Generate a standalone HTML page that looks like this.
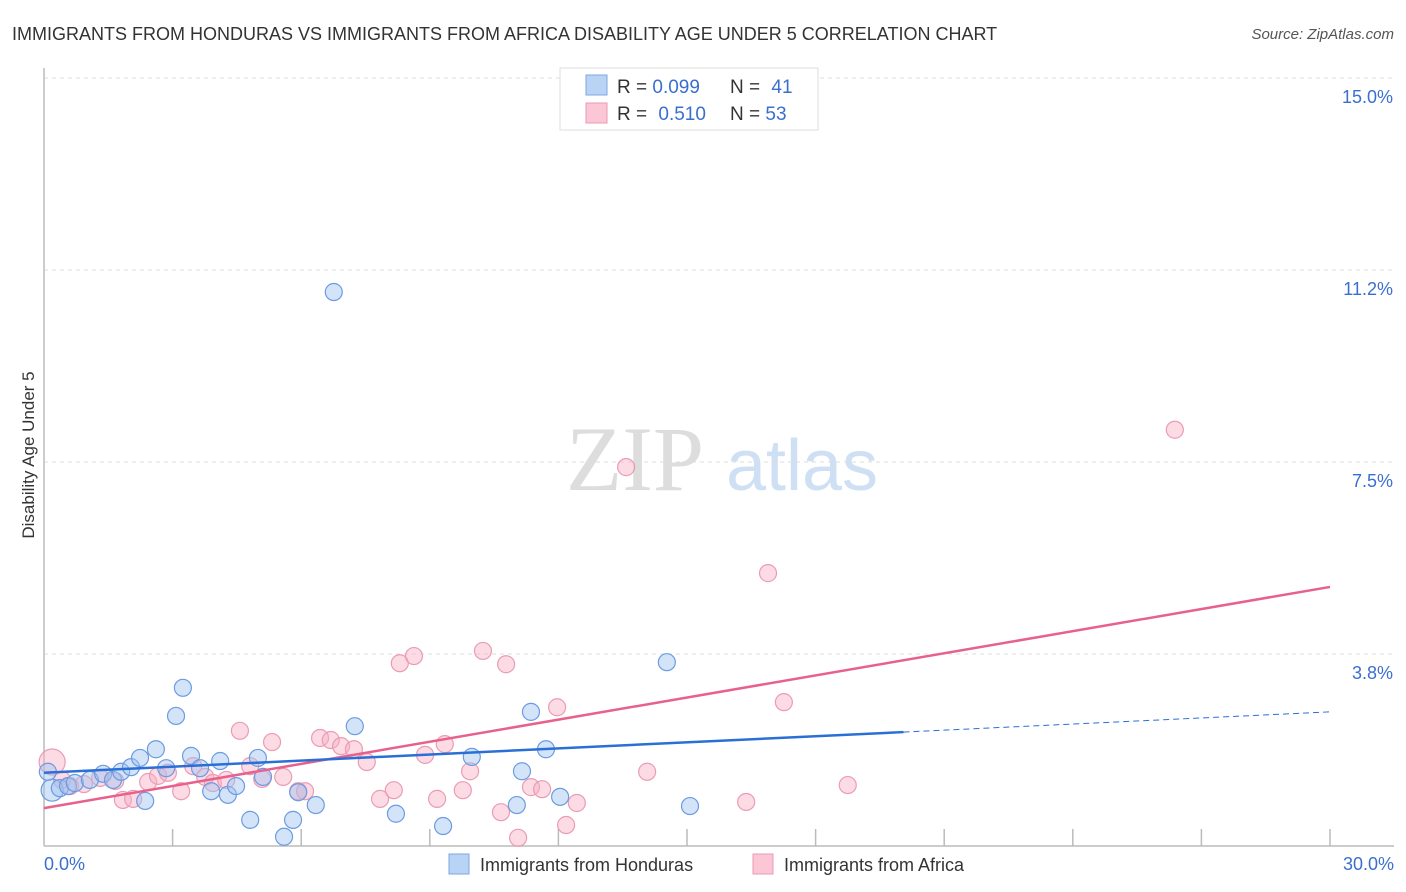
<!DOCTYPE html>
<html><head><meta charset="utf-8">
<style>
body{margin:0;background:#fff;font-family:"Liberation Sans",sans-serif;}
#wrap{position:relative;width:1406px;height:892px;overflow:hidden;}
</style></head>
<body>
<div id="wrap">
<svg id="chart" width="1406" height="892" xmlns="http://www.w3.org/2000/svg">
  <text x="12" y="40" font-size="18" fill="#333">IMMIGRANTS FROM HONDURAS VS IMMIGRANTS FROM AFRICA DISABILITY AGE UNDER 5 CORRELATION CHART</text>
  <text x="1394" y="39" font-size="15" fill="#555" font-style="italic" text-anchor="end">Source: ZipAtlas.com</text>
  <text x="34" y="455" font-size="17" fill="#333" text-anchor="middle" transform="rotate(-90 34 455)">Disability Age Under 5</text>
  <g>
    <text x="635" y="490" font-size="92" font-family="Liberation Serif,serif" fill="#ddd" text-anchor="middle">ZIP</text>
    <text x="802" y="490" font-size="72" fill="#cfe0f4" text-anchor="middle">atlas</text>
  </g>
  <g id="grid"></g>
  <g id="axes"></g>
  <g id="marks"></g>
  <g id="trends"></g>
  <g>
    <rect x="560" y="68" width="258" height="62" fill="#fff" stroke="#ddd"/>
    <rect x="586" y="75" width="21" height="20" fill="#b9d3f5" stroke="#7ea7e3"/>
    <rect x="586" y="103" width="21" height="20" fill="#fbc6d5" stroke="#eb9ab3"/>
    <text x="617" y="93" font-size="19" fill="#333">R = <tspan fill="#3a6fd0">0.099</tspan></text>
    <text x="730" y="93" font-size="19" fill="#333">N = <tspan fill="#3a6fd0" dx="6">41</tspan></text>
    <text x="617" y="120" font-size="19" fill="#333">R = <tspan fill="#3a6fd0" dx="6">0.510</tspan></text>
    <text x="730" y="120" font-size="19" fill="#333">N = <tspan fill="#3a6fd0">53</tspan></text>
  </g>
  <g>
    <rect x="449" y="854" width="20" height="20" fill="#b9d3f5" stroke="#7ea7e3"/>
    <text x="480" y="871" font-size="18" fill="#333">Immigrants from Honduras</text>
    <rect x="753" y="854" width="20" height="20" fill="#fbc6d5" stroke="#eb9ab3"/>
    <text x="784" y="871" font-size="18" fill="#333">Immigrants from Africa</text>
  </g>
</svg>
</div>
<script>
const yTicks = [3.8, 7.5, 11.2, 15.0];
const yTickValues = [3.75, 7.5, 11.25, 15.0];
const xTickLabels = ["0.0%", "30.0%"];
const hondurasX = [0.19,0.09,0.37,0.56,0.72,1.07,1.38,1.61,1.80,2.03,2.24,2.36,2.61,2.85,3.08,3.24,3.43,3.64,3.90,4.11,4.29,4.48,4.81,4.99,5.11,5.60,5.81,5.93,6.34,6.76,7.25,8.21,9.31,9.98,11.03,11.15,11.36,11.71,12.04,14.53,15.07];
const hondurasY = [1.09,1.45,1.13,1.17,1.23,1.29,1.41,1.29,1.45,1.54,1.72,0.88,1.89,1.52,2.54,3.09,1.76,1.52,1.07,1.66,1.00,1.17,0.51,1.72,1.35,0.18,0.51,1.05,0.80,10.82,2.34,0.63,0.39,1.74,0.80,1.46,2.62,1.89,0.96,3.59,0.78];
const africaX = [0.19,0.42,0.61,0.93,1.31,1.66,1.84,2.08,2.43,2.66,2.89,3.20,3.48,3.76,3.94,4.25,4.57,4.81,5.09,5.32,5.58,5.93,6.09,6.44,6.69,6.93,7.23,7.53,7.84,8.16,8.30,8.63,8.89,9.17,9.35,9.77,9.94,10.24,10.66,10.78,11.06,11.36,11.62,11.97,12.18,12.43,13.58,14.07,16.38,16.89,17.26,18.75,26.38];
const africaY = [1.64,1.29,1.17,1.21,1.33,1.27,0.90,0.92,1.25,1.37,1.43,1.07,1.56,1.35,1.23,1.29,2.25,1.56,1.31,2.03,1.35,1.07,1.07,2.11,2.07,1.95,1.89,1.64,0.92,1.09,3.57,3.71,1.78,0.92,1.99,1.09,1.46,3.81,0.66,3.55,0.16,1.15,1.11,2.71,0.41,0.84,7.40,1.45,0.86,5.33,2.81,1.19,8.13];
const hondurasTrend = [1.43, 2.62]; // values at x=0 and x=30
const hondurasSolidEnd = 20.05;
const africaTrend = [0.74, 5.06];

const NS = "http://www.w3.org/2000/svg";
const X0 = 44, X1 = 1330, Y0 = 846;
function sx(v){ return X0 + v * (X1 - X0) / 30; }
function sy(v){ return Y0 - v * 51.2; }
function mk(tag, attrs, parent){
  const e = document.createElementNS(NS, tag);
  for (const k in attrs) e.setAttribute(k, attrs[k]);
  parent.appendChild(e);
  return e;
}
const grid = document.getElementById('grid');
const axes = document.getElementById('axes');
const marks = document.getElementById('marks');
const trends = document.getElementById('trends');

yTickValues.forEach((v, i) => {
  const l = mk('line', {x1: X0, x2: 1394, y1: sy(v), y2: sy(v), stroke: '#ddd', 'stroke-dasharray': '4,4'}, grid);
  
  
  const t = mk('text', {x: 1393, y: sy(v) + 25, 'font-size': 18, fill: '#3a6fd0', 'text-anchor': 'end'}, axes);
  t.textContent = yTicks[i].toFixed(1) + '%';
  
  
});
const ya = mk('line', {x1: X0, x2: X0, y1: 68, y2: Y0, stroke: '#bbb', 'stroke-width': 1.5}, axes);


const xa = mk('line', {x1: X0, x2: 1394, y1: Y0, y2: Y0, stroke: '#bbb', 'stroke-width': 1.5}, axes);


for (let i = 1; i <= 10; i++) {
  const tk = mk('line', {x1: sx(i * 3), x2: sx(i * 3), y1: Y0, y2: 829, stroke: '#bbb', 'stroke-width': 1.5}, axes);
  
  
}
const xl0 = mk('text', {x: 44, y: 870, 'font-size': 18, fill: '#3a6fd0'}, axes);
xl0.textContent = xTickLabels[0];


const xl1 = mk('text', {x: 1394, y: 870, 'font-size': 18, fill: '#3a6fd0', 'text-anchor': 'end'}, axes);
xl1.textContent = xTickLabels[1];



africaX.forEach((x, i) => {
  const c = mk('circle', {cx: sx(x), cy: sy(africaY[i]), r: i === 0 ? 13 : 8.5, fill: 'rgba(248,176,198,0.45)', stroke: '#ea9cb5', 'stroke-width': 1.2}, marks);
  
  
});
hondurasX.forEach((x, i) => {
  const c = mk('circle', {cx: sx(x), cy: sy(hondurasY[i]), r: i === 0 ? 11 : 8.5, fill: 'rgba(160,196,240,0.45)', stroke: '#6b9be2', 'stroke-width': 1.2}, marks);
  
  
});

function ty(tr, x){ return tr[0] + (tr[1] - tr[0]) * x / 30; }
const pl = mk('line', {x1: sx(0), y1: sy(ty(africaTrend, 0)), x2: sx(30), y2: sy(ty(africaTrend, 30)), stroke: '#e8608c', 'stroke-width': 2.5}, trends);


const bl = mk('line', {x1: sx(0), y1: sy(ty(hondurasTrend, 0)), x2: sx(hondurasSolidEnd), y2: sy(ty(hondurasTrend, hondurasSolidEnd)), stroke: '#2a6fd6', 'stroke-width': 2.5}, trends);


const bd = mk('line', {x1: sx(hondurasSolidEnd), y1: sy(ty(hondurasTrend, hondurasSolidEnd)), x2: sx(30), y2: sy(ty(hondurasTrend, 30)), stroke: '#2a6fd6', 'stroke-width': 1, 'stroke-dasharray': '6,4'}, trends);


</script>
</body></html>
